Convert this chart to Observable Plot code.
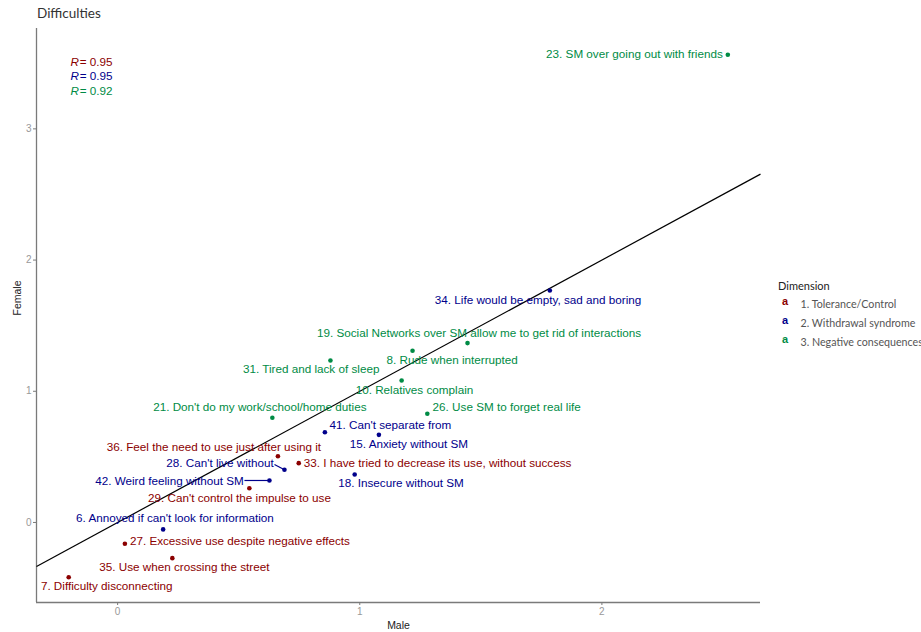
<!DOCTYPE html>
<html>
<head>
<meta charset="utf-8">
<script src="https://cdn.jsdelivr.net/npm/d3@7"></script>
<script src="https://cdn.jsdelivr.net/npm/@observablehq/plot@0.6"></script>
<style>
  html, body { margin: 0; padding: 0; background: #fff; overflow: hidden; }
  #wrap { position: relative; width: 921px; height: 632px; overflow: hidden; }
  #title { position: absolute; left: 37px; top: 5px; font: 13.5px Lato, "Noto Sans", sans-serif; color: #333; white-space: nowrap; }
  #legend { position: absolute; left: 778px; top: 277px; font-family: Lato, "Noto Sans", sans-serif; white-space: nowrap; }
  #legend .head { font-size: 11px; color: #222; height: 17px; line-height: 17px; }
  #legend .row { height: 19px; line-height: 19px; font-size: 10.7px; color: #555; position: relative; }
  #legend .key { position: absolute; left: 4px; top: 0.5px; font: bold 11px "Liberation Sans", Arial, sans-serif; }
  #legend .txt { position: absolute; left: 22.5px; }
</style>
</head>
<body>
<div id="wrap">
  <div id="chart"></div>
  <div id="title">Difficulties</div>
  <div id="legend"></div>
</div>
<script>
// Items of the difficulties scale, with mean scores for men and women
const items = [
  "23. SM over going out with friends",
  "34. Life would be empty, sad and boring",
  "19. Social Networks over SM allow me to get rid of interactions",
  "8. Rude when interrupted",
  "31. Tired and lack of sleep",
  "10. Relatives complain",
  "26. Use SM to forget real life",
  "21. Don't do my work/school/home duties",
  "41. Can't separate from",
  "15. Anxiety without SM",
  "36. Feel the need to use just after using it",
  "28. Can't live without",
  "33. I have tried to decrease its use, without success",
  "42. Weird feeling without SM",
  "18. Insecure without SM",
  "29. Can't control the impulse to use",
  "6. Annoyed if can't look for information",
  "27. Excessive use despite negative effects",
  "35. Use when crossing the street",
  "7. Difficulty disconnecting"
];
const male   = [2.520, 1.785, 1.445, 1.218, 0.879, 1.173, 1.279, 0.639, 0.856, 1.079,
                0.662, 0.689, 0.748, 0.627, 0.979, 0.544, 0.188, 0.030, 0.226, -0.202];
const female = [3.565, 1.768, 1.367, 1.309, 1.235, 1.082, 0.829, 0.798, 0.688, 0.668,
                0.505, 0.402, 0.452, 0.320, 0.366, 0.261, -0.053, -0.162, -0.272, -0.417];
const dimension = [3, 2, 3, 3, 3, 3, 3, 3, 2, 2,
                   1, 2, 1, 2, 2, 1, 2, 1, 1, 1];

const dimensionNames = ["1. Tolerance/Control", "2. Withdrawal syndrome", "3. Negative consequences"];
const dimensionColors = ["#8b0000", "#00008b", "#008b45"];
const correlations = [0.95, 0.95, 0.92];
const xTicks = [0, 1, 2];
const yTicks = [0, 1, 2, 3];

// Repelled label placement: pixel offset from the point, text anchor, optional leader end
const labelNudge = [
  [-5, 0, "end"], [-11.8, 9.3, "middle"], [11.5, -9.4, "middle"], [39.7, 9.7, "middle"],
  [-19.3, 9.3, "middle"], [12.8, 9.3, "middle"], [5.3, -6.6, "start"], [-12.5, -10.6, "middle"],
  [4.7, -7, "start"], [30, 9.7, "middle"], [-64, -9, "middle"], [-10.7, -6, "end", [-10, -5.3]],
  [5, 0, "start"], [-25.7, 1, "end", [-25, 0]], [46.3, 9.3, "middle"], [-9.8, 9.6, "middle"],
  [11.8, -10.7, "middle"], [5, -2.6, "start"], [12, 9, "middle"], [38, 9, "middle"]
];

const xDomain = [-0.335, 2.655];
const yDomain = [-0.61, 3.765];
const W = 921, H = 632, mL = 36, mR = 161, mT = 28, mB = 30;
const pxPerX = (W - mL - mR) / (xDomain[1] - xDomain[0]);
const pxPerY = (H - mT - mB) / (yDomain[1] - yDomain[0]);

const rows = items.map((label, i) => ({
  label, male: male[i], female: female[i],
  dim: dimensionNames[dimension[i] - 1],
  nx: labelNudge[i][0], ny: labelNudge[i][1], anchor: labelNudge[i][2], lead: labelNudge[i][3]
}));

// Reference line y = x across the panel
const identity = {slope: 1, intercept: 0};
const refLine = [{
  x1: xDomain[0], y1: identity.intercept + identity.slope * xDomain[0],
  x2: xDomain[1], y2: identity.intercept + identity.slope * xDomain[1]
}];

const labelFont = {fontSize: 11.7, fontFamily: "'Liberation Sans', Arial, sans-serif"};
const textMarks = ["start", "middle", "end"].map(a => Plot.text(rows.filter(d => d.anchor === a), {
  x: d => d.male + d.nx / pxPerX,
  y: d => d.female - d.ny / pxPerY,
  text: "label", fill: "dim", textAnchor: a, ...labelFont
}));

const leaders = rows.filter(d => d.lead);

const statMarks = correlations.flatMap((r, i) => [
  Plot.text([r], {text: () => "R", frameAnchor: "top-left", dx: 34, dy: 34 + i * 14.2,
    lineAnchor: "middle", textAnchor: "start", fontStyle: "italic",
    fill: dimensionColors[i], ...labelFont}),
  Plot.text([r], {text: d => "= " + d.toFixed(2), frameAnchor: "top-left", dx: 43.3, dy: 34 + i * 14.2,
    lineAnchor: "middle", textAnchor: "start", fill: dimensionColors[i], ...labelFont})
]);

const chart = Plot.plot({
  width: W, height: H,
  marginLeft: mL, marginRight: mR, marginTop: mT, marginBottom: mB,
  style: {background: "white", fontFamily: "'Liberation Sans', Arial, sans-serif"},
  x: {domain: xDomain, label: null},
  y: {domain: yDomain, label: null},
  color: {domain: dimensionNames, range: dimensionColors},
  marks: [
    Plot.ruleX([xDomain[0]], {stroke: "#7a7a7a", strokeWidth: 1.3}),
    Plot.ruleY([yDomain[0]], {stroke: "#7a7a7a", strokeWidth: 1.3}),
    Plot.axisX(xTicks, {tickSize: 3, tickPadding: 2, tickFormat: d => String(d), stroke: "#7a7a7a", fill: "#999", fontSize: 10, label: null}),
    Plot.axisY(yTicks, {tickSize: 3, tickPadding: 2, tickFormat: d => String(d), stroke: "#7a7a7a", fill: "#999", fontSize: 10, label: null}),
    Plot.text(["Male"], {frameAnchor: "bottom", dy: 23, lineAnchor: "middle", fontSize: 10.5, fill: "#222"}),
    Plot.text(["Female"], {frameAnchor: "left", dx: -19, rotate: -90, lineAnchor: "middle", fontSize: 10.5, fill: "#222"}),
    Plot.link(refLine, {x1: "x1", y1: "y1", x2: "x2", y2: "y2", stroke: "black", strokeWidth: 1.2}),
    Plot.link(leaders, {
      x1: "male", y1: "female",
      x2: d => d.male + d.lead[0] / pxPerX,
      y2: d => d.female - d.lead[1] / pxPerY,
      stroke: "dim", strokeWidth: 1.2
    }),
    Plot.dot(rows, {x: "male", y: "female", fill: "dim", r: 2.3}),
    ...textMarks,
    ...statMarks
  ]
});
document.getElementById("chart").appendChild(chart);

// Legend for the three dimensions
const legend = document.getElementById("legend");
const head = document.createElement("div");
head.className = "head";
head.textContent = "Dimension";
legend.appendChild(head);
dimensionNames.forEach((name, i) => {
  const row = document.createElement("div");
  row.className = "row";
  const key = document.createElement("span");
  key.className = "key";
  key.style.color = dimensionColors[i];
  key.textContent = "a";
  const txt = document.createElement("span");
  txt.className = "txt";
  txt.textContent = name;
  row.appendChild(key);
  row.appendChild(txt);
  legend.appendChild(row);
});
</script>
</body>
</html>
